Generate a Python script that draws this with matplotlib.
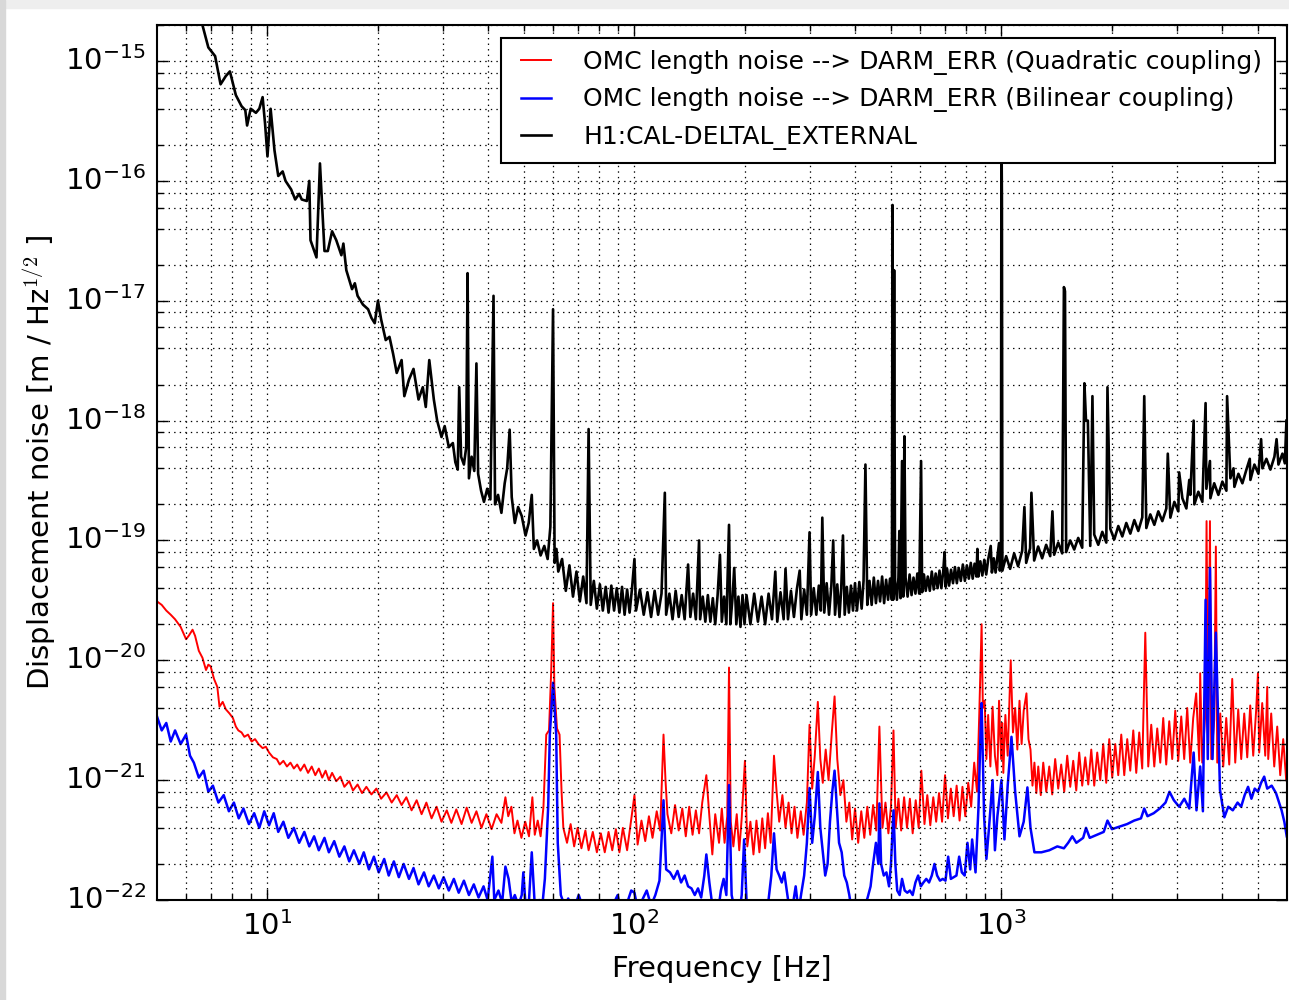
import matplotlib
matplotlib.use('Agg')
import matplotlib.pyplot as plt
from matplotlib.patches import Rectangle
from matplotlib.ticker import FixedLocator, NullFormatter

plt.style.use('classic')
plt.rcParams['axes.unicode_minus'] = False

# values: (frequency Hz, displacement m/rtHz)
black_pts = [
    (5.0, 9e-15), (5.5, 6e-15), (6.0, 4e-15), (6.5, 2.6e-15), (6.9, 1.3e-15),
    (7.2, 1.1e-15), (7.45, 6.4e-16), (7.7, 7.5e-16), (7.9, 8.2e-16), (8.2, 5.2e-16),
    (8.5, 4.2e-16), (8.7, 3.9e-16), (8.8, 2.9e-16), (9.0, 4.0e-16), (9.3, 3.7e-16),
    (9.5, 4.0e-16), (9.7, 5.0e-16), (9.85, 3.0e-16), (10.0, 1.6e-16), (10.2, 4.0e-16),
    (10.45, 1.8e-16), (10.7, 1.1e-16), (11.0, 1.2e-16), (11.2, 1.0e-16), (11.6, 8.5e-17),
    (11.9, 7.0e-17), (12.2, 7.8e-17), (12.4, 7.0e-17), (12.8, 6.8e-17), (13.0, 1.0e-16),
    (13.1, 3.2e-17), (13.6, 2.3e-17), (13.9, 1.4e-16), (14.3, 2.6e-17), (14.6, 2.6e-17),
    (15.0, 3.8e-17), (15.4, 3.2e-17), (15.9, 2.4e-17), (16.1, 3.0e-17), (16.4, 1.8e-17),
    (17.0, 1.25e-17), (17.3, 1.4e-17), (17.6, 1.1e-17), (18.2, 9.3e-18), (18.8, 8.5e-18),
    (19.2, 7.2e-18), (19.6, 6.5e-18), (20.0, 1.0e-17), (20.4, 7.0e-18), (21.0, 4.7e-18),
    (21.5, 5.0e-18), (22.0, 3.6e-18), (22.5, 2.5e-18), (23.2, 3.2e-18), (23.6, 1.6e-18),
    (24.3, 2.2e-18), (25.0, 2.7e-18), (25.8, 1.5e-18), (26.5, 1.9e-18), (27.0, 1.3e-18),
    (27.6, 3.2e-18), (28.4, 1.5e-18), (29.0, 1.0e-18), (29.8, 7.3e-19), (30.4, 9.0e-19),
    (31.2, 6.0e-19), (32.0, 6.5e-19), (32.5, 4.5e-19), (33.0, 3.9e-19), (33.3, 1.9e-18),
    (33.7, 5.0e-19), (34.3, 4.3e-19), (34.8, 6.0e-19), (35.1, 1.7e-17), (35.4, 3.3e-19),
    (36.0, 5.0e-19), (36.6, 3.8e-19), (37.1, 3.0e-18), (37.5, 3.6e-19), (38.2, 2.6e-19),
    (38.9, 2.1e-19), (39.7, 2.7e-19), (40.5, 2.2e-19), (41.3, 1.1e-17), (41.7, 2.0e-19),
    (42.5, 2.4e-19), (43.4, 1.7e-19), (44.3, 3.0e-19), (45.0, 4.0e-19), (45.7, 8.4e-19),
    (46.3, 2.3e-19), (47.2, 1.4e-19), (48.2, 1.9e-19), (49.3, 1.6e-19), (50.5, 1.1e-19),
    (51.5, 1.4e-19), (52.5, 2.4e-19), (53.2, 8.5e-20), (54.3, 1.0e-19), (55.5, 7.5e-20),
    (56.8, 9.0e-20), (58.0, 7.0e-20), (59.0, 1.3e-19), (60.0, 8.5e-18), (60.6, 6.5e-20),
    (61.3, 8.5e-20), (62.0, 5.5e-20), (63.5, 7.0e-20), (65.0, 3.8e-20), (66.5, 6.2e-20),
    (68.0, 3.4e-20), (69.5, 5.5e-20), (71.0, 3.1e-20), (72.5, 5.0e-20), (74.0, 3.0e-20),
    (75.0, 8.5e-19), (76.0, 2.9e-20), (77.5, 4.6e-20), (79.0, 2.7e-20), (80.5, 4.3e-20),
    (82.0, 2.6e-20), (83.5, 4.1e-20), (85.0, 2.5e-20), (86.5, 4.2e-20), (88.0, 2.6e-20),
    (89.5, 4.0e-20), (91.0, 2.5e-20), (92.5, 4.1e-20), (94.0, 2.4e-20), (95.5, 3.9e-20),
    (97.0, 2.5e-20), (98.5, 4.0e-20), (100, 7e-20), (101, 2.6e-20), (103.5, 3.9e-20),
    (106, 2.4e-20), (108.5, 3.7e-20), (111, 2.3e-20), (113.5, 3.8e-20), (116, 2.4e-20),
    (118.5, 3.6e-20), (121, 2.5e-19), (122, 2.4e-20), (124.5, 3.6e-20), (127, 2.2e-20),
    (129.5, 3.8e-20), (132, 2.3e-20), (134.5, 3.5e-20), (137, 2.2e-20), (140, 6.3e-20),
    (142, 2.3e-20), (144.5, 3.6e-20), (147, 2.2e-20), (150, 1.0e-19), (151, 2.2e-20),
    (153.5, 3.4e-20), (156, 2.1e-20), (158.5, 3.5e-20), (161, 2.1e-20), (163.5, 3.3e-20),
    (166, 2.0e-20), (168.5, 3.5e-20), (171, 7.6e-20), (173, 2.1e-20), (175.5, 3.4e-20),
    (178, 2.0e-20), (181, 1.35e-19), (182.5, 2.0e-20), (185, 3.3e-20), (187, 5.9e-20),
    (189.5, 2.0e-20), (192, 3.4e-20), (194.5, 1.9e-20), (197, 3.5e-20), (199.5, 2.0e-20),
    (202, 3.5e-20), (207, 2.0e-20), (212, 3.6e-20), (217, 2.1e-20), (222, 3.4e-20),
    (227, 2.0e-20), (232, 3.6e-20), (237, 2.2e-20), (242, 5.5e-20), (245, 2.1e-20),
    (250, 3.7e-20), (255, 2.2e-20), (258, 5.8e-20), (262, 2.2e-20), (267, 3.8e-20),
    (272, 2.3e-20), (277, 3.9e-20), (282, 5.6e-20), (285, 2.2e-20), (290, 3.9e-20),
    (295, 2.4e-20), (300, 1.17e-19), (303, 2.4e-20), (308, 4.0e-20), (313, 2.4e-20),
    (318, 4.2e-20), (322, 2.6e-20), (325, 1.55e-19), (329, 2.5e-20), (334, 4.4e-20),
    (339, 2.4e-20), (344, 4.2e-20), (348, 1.0e-19), (352, 2.4e-20), (357, 4.3e-20),
    (362, 2.3e-20), (366, 4.0e-20), (370, 1.1e-19), (374, 2.4e-20), (379, 4.1e-20),
    (384, 2.5e-20), (389, 4.2e-20), (394, 2.6e-20), (399, 4.4e-20), (404, 2.6e-20),
    (410, 4.5e-20), (416, 2.7e-20), (421, 4.6e-20), (426, 4.3e-19), (431, 2.9e-20),
    (437, 4.6e-20), (443, 2.9e-20), (449, 4.9e-20), (455, 3.0e-20), (461, 4.6e-20),
    (467, 3.1e-20), (473, 5.0e-20), (479, 3.0e-20), (485, 4.7e-20), (491, 3.2e-20),
    (497, 4.8e-20), (503, 3.2e-20), (505, 6.3e-17), (507, 3.2e-20), (510, 1.8e-17),
    (513, 4.6e-20), (519, 3.2e-20), (524, 4.9e-20), (527, 1.2e-19), (531, 3.3e-20),
    (536, 4.6e-19), (540, 3.4e-20), (544, 7.4e-19), (548, 4.9e-20), (555, 3.4e-20),
    (562, 5.2e-20), (569, 3.5e-20), (576, 4.9e-20), (583, 3.6e-20), (590, 5.3e-20),
    (597, 3.6e-20), (604, 4.6e-19), (608, 3.7e-20), (615, 5.2e-20), (622, 3.8e-20),
    (630, 5.0e-20), (638, 3.8e-20), (646, 5.5e-20), (654, 3.9e-20), (662, 5.3e-20),
    (670, 4.0e-20), (678, 5.6e-20), (686, 4.0e-20), (694, 5.5e-20), (700, 8.0e-20),
    (705, 4.1e-20), (711, 5.8e-20), (720, 4.2e-20), (729, 5.7e-20), (738, 4.4e-20),
    (747, 6.0e-20), (756, 4.4e-20), (765, 5.9e-20), (775, 4.6e-20), (785, 6.3e-20),
    (795, 4.6e-20), (805, 6.2e-20), (815, 4.8e-20), (825, 6.5e-20), (835, 4.8e-20),
    (845, 6.4e-20), (855, 5.0e-20), (860, 8.5e-20), (865, 5.0e-20), (876, 6.7e-20),
    (887, 5.1e-20), (898, 6.9e-20), (909, 5.2e-20), (920, 6.9e-20), (935, 9.0e-20),
    (942, 5.4e-20), (953, 7.1e-20), (964, 5.4e-20), (975, 7.3e-20), (985, 9.5e-20),
    (990, 5.6e-20), (997, 7.3e-20), (1000, 3e-16), (1003, 7e-17), (1006, 5.6e-20),
    (1030, 7.4e-20), (1056, 5.8e-20), (1083, 7.8e-20), (1110, 6.1e-20), (1139, 8.2e-20),
    (1155, 1.9e-19), (1168, 6.5e-20), (1197, 8.6e-20), (1207, 2.5e-19), (1228, 6.8e-20),
    (1259, 8.9e-20), (1291, 7.1e-20), (1324, 9.2e-20), (1358, 7.4e-20), (1377, 1.75e-19),
    (1392, 7.6e-20), (1428, 9.6e-20), (1464, 7.8e-20), (1480, 1.3e-17), (1490, 1.2e-17),
    (1501, 8.0e-20), (1540, 1.0e-19), (1579, 8.4e-20), (1619, 1.05e-19), (1660, 8.7e-20),
    (1683, 2.05e-18), (1700, 1.0e-18), (1720, 1.0e-18), (1746, 9.0e-20), (1770, 1.6e-18),
    (1790, 1.12e-19), (1836, 9.2e-20), (1883, 1.18e-19), (1931, 9.6e-20), (1945, 1.9e-18),
    (1960, 6e-19), (1980, 1.25e-19), (2030, 1.02e-19), (2082, 1.32e-19), (2135, 1.08e-19),
    (2189, 1.40e-19), (2245, 1.14e-19), (2302, 1.48e-19), (2360, 1.2e-19), (2420, 1.56e-19),
    (2450, 1.6e-18), (2482, 1.27e-19), (2545, 1.65e-19), (2610, 1.35e-19), (2676, 1.75e-19),
    (2744, 1.45e-19), (2814, 1.85e-19), (2840, 5.3e-19), (2886, 1.55e-19), (2959, 2.1e-19),
    (3034, 1.75e-19), (3050, 3.7e-19), (3112, 2.25e-19), (3191, 1.85e-19), (3250, 3.2e-19),
    (3272, 2.4e-19), (3340, 1.0e-18), (3355, 2.0e-19), (3440, 2.55e-19), (3528, 2.1e-19),
    (3600, 1.4e-18), (3618, 2.7e-19), (3700, 4.6e-19), (3710, 2.25e-19), (3800, 3.0e-19),
    (3901, 2.4e-19), (4000, 3.1e-19), (4102, 2.6e-19), (4120, 1.6e-18), (4206, 3.3e-19),
    (4290, 4.0e-19), (4313, 2.8e-19), (4423, 3.6e-19), (4535, 3.0e-19), (4651, 3.9e-19),
    (4750, 4.8e-19), (4769, 3.2e-19), (4890, 4.3e-19), (5015, 3.6e-19), (5100, 7.0e-19),
    (5142, 4.0e-19), (5273, 4.8e-19), (5407, 3.9e-19), (5545, 5.0e-19), (5620, 7.0e-19),
    (5686, 4.3e-19), (5830, 5.3e-19), (5920, 4.4e-19), (5979, 1.0e-18),
]

red_pts = [
    (5.0, 3.1e-20), (5.15, 2.9e-20), (5.3, 2.6e-20), (5.45, 2.4e-20), (5.6, 2.2e-20),
    (5.8, 1.9e-20), (6.0, 1.5e-20), (6.1, 1.6e-20), (6.25, 1.8e-20), (6.35, 1.6e-20),
    (6.5, 1.2e-20), (6.65, 1.05e-20), (6.8, 8.3e-21), (6.9, 9.2e-21), (7.0, 8.9e-21),
    (7.15, 7.0e-21), (7.3, 6.0e-21), (7.4, 4.1e-21), (7.55, 4.5e-21), (7.7, 3.9e-21),
    (7.88, 3.6e-21), (8.05, 3.3e-21), (8.2, 2.8e-21), (8.33, 2.6e-21), (8.5, 2.5e-21),
    (8.65, 2.3e-21), (8.85, 2.4e-21), (9.05, 2.1e-21), (9.25, 2.2e-21), (9.45, 2.0e-21),
    (9.7, 1.85e-21), (9.9, 1.9e-21), (10.1, 1.7e-21), (10.35, 1.55e-21), (10.6, 1.5e-21),
    (10.8, 1.35e-21), (11.05, 1.45e-21), (11.3, 1.3e-21), (11.55, 1.4e-21), (11.8, 1.25e-21),
    (12.05, 1.35e-21), (12.3, 1.2e-21), (12.6, 1.35e-21), (12.9, 1.15e-21), (13.2, 1.3e-21),
    (13.5, 1.1e-21), (13.8, 1.25e-21), (14.1, 1.05e-21), (14.4, 1.2e-21), (14.7, 1.0e-21),
    (15.0, 1.15e-21), (15.4, 9.8e-22), (15.8, 1.07e-21), (16.2, 8.8e-22), (16.7, 9.8e-22),
    (17.1, 8.2e-22), (17.6, 9.2e-22), (18.1, 7.8e-22), (18.6, 8.8e-22), (19.2, 7.6e-22),
    (19.8, 8.5e-22), (20.4, 7.0e-22), (21.1, 7.9e-22), (21.8, 6.5e-22), (22.5, 7.5e-22),
    (23.2, 6.2e-22), (23.9, 7.2e-22), (24.7, 5.6e-22), (25.5, 6.8e-22), (26.3, 5.2e-22),
    (27.1, 6.5e-22), (28.0, 4.8e-22), (28.9, 6.0e-22), (29.8, 4.5e-22), (30.8, 5.6e-22),
    (31.7, 4.4e-22), (32.7, 5.7e-22), (33.8, 4.3e-22), (34.9, 5.9e-22), (36.0, 4.4e-22),
    (37.1, 5.5e-22), (38.3, 4.0e-22), (39.5, 5.2e-22), (40.8, 3.9e-22), (42.1, 5.2e-22),
    (43.4, 4.4e-22), (44.5, 7.2e-22), (45.3, 5.0e-22), (46.2, 6.0e-22), (47.1, 3.6e-22),
    (48.0, 4.6e-22), (49.2, 3.3e-22), (50.4, 4.5e-22), (51.6, 3.4e-22), (52.7, 7.2e-22),
    (53.5, 3.5e-22), (54.5, 4.6e-22), (55.5, 3.4e-22), (56.5, 6e-22), (57.5, 2.4e-21),
    (58.5, 2.6e-21), (59.3, 8e-21), (60.0, 3.0e-20), (60.5, 6e-21), (61.5, 2.7e-21),
    (62.5, 2.4e-21), (63.3, 8e-22), (64.0, 4.0e-22), (65.5, 3.0e-22), (67.0, 4.3e-22),
    (68.5, 2.8e-22), (70.0, 4.0e-22), (71.7, 2.7e-22), (73.5, 3.8e-22), (75.0, 2.6e-22),
    (77.0, 3.7e-22), (79.0, 2.5e-22), (81.0, 3.6e-22), (83.0, 2.5e-22), (85.0, 3.7e-22),
    (87.0, 2.6e-22), (89.0, 3.9e-22), (91.0, 2.5e-22), (93.0, 4.0e-22), (95.5, 2.6e-22),
    (97.5, 4.2e-22), (100, 7.5e-22), (102, 2.9e-22), (104.5, 4.6e-22), (107, 3.1e-22),
    (109.5, 5.0e-22), (112, 3.3e-22), (115, 5.5e-22), (117.5, 3.8e-22), (120, 2.4e-21),
    (121.5, 1.0e-21), (123, 5.2e-22), (126, 3.6e-22), (129, 6.2e-22), (132, 3.8e-22),
    (135, 5.8e-22), (138, 3.4e-22), (141, 6.0e-22), (144, 3.5e-22), (147, 5.6e-22),
    (150, 3.6e-22), (153, 6.5e-22), (157, 1.1e-21), (160, 5.0e-22), (163, 2.4e-22),
    (166, 5.2e-22), (170, 3.0e-22), (173, 5.8e-22), (176, 3.0e-22), (179, 5.0e-22),
    (181, 8.7e-21), (183, 4.5e-22), (186, 2.8e-22), (190, 5.2e-22), (193, 2.6e-22),
    (196, 4.8e-22), (200, 1.45e-21), (203, 2.8e-22), (207, 4.5e-22), (211, 2.4e-22),
    (215, 4.6e-22), (219, 2.5e-22), (223, 4.8e-22), (227, 2.7e-22), (231, 5.3e-22),
    (235, 3.0e-22), (240, 1.6e-21), (244, 8.0e-22), (248, 4.5e-22), (253, 7.5e-22),
    (258, 4.0e-22), (263, 6.5e-22), (268, 3.6e-22), (273, 6.0e-22), (278, 3.3e-22),
    (284, 5.5e-22), (289, 3.5e-22), (295, 6.5e-22), (300, 2.9e-21), (305, 8.5e-22),
    (310, 1.6e-21), (316, 4.5e-21), (321, 1.5e-21), (326, 9.5e-22), (332, 1.8e-21),
    (338, 1.0e-21), (345, 2.5e-21), (351, 5.0e-21), (357, 1.5e-21), (364, 7.5e-22),
    (371, 1.0e-21), (378, 4.5e-22), (385, 6.5e-22), (392, 3.2e-22), (399, 5.8e-22),
    (407, 3.0e-22), (415, 5.5e-22), (423, 3.3e-22), (431, 6.0e-22), (439, 3.5e-22),
    (447, 6.2e-22), (456, 3.8e-22), (465, 2.8e-21), (474, 4.0e-22), (483, 6.5e-22),
    (492, 3.6e-22), (500, 6.0e-22), (508, 2.6e-21), (515, 4.0e-22), (524, 7.0e-22),
    (533, 3.8e-22), (543, 7.2e-22), (553, 4.0e-22), (563, 7.0e-22), (573, 3.6e-22),
    (584, 6.8e-22), (595, 4.0e-22), (605, 1.2e-21), (617, 4.3e-22), (628, 7.5e-22),
    (640, 4.2e-22), (652, 7.2e-22), (664, 4.5e-22), (676, 7.8e-22), (689, 4.5e-22),
    (702, 1.1e-21), (715, 4.8e-22), (728, 8.5e-22), (741, 5.0e-22), (755, 9.0e-22),
    (769, 4.6e-22), (783, 8.8e-22), (797, 5.0e-22), (812, 9.5e-22), (827, 6.0e-22),
    (843, 1.4e-21), (858, 8.0e-22), (870, 3.5e-21), (883, 2.0e-20), (890, 4.0e-21),
    (900, 4.6e-21), (910, 1.5e-21), (920, 3.5e-21), (933, 1.3e-21), (946, 4.1e-21),
    (960, 1.6e-21), (975, 1.1e-21), (985, 4.6e-21), (998, 1.5e-21), (1005, 3.0e-21),
    (1012, 1.15e-21), (1025, 3.5e-21), (1040, 1.6e-21), (1060, 1.0e-20), (1075, 2.5e-21),
    (1090, 4.0e-21), (1105, 1.8e-21), (1120, 4.6e-21), (1135, 2.0e-21), (1150, 3.8e-21),
    (1170, 5.3e-21), (1185, 2.2e-21), (1200, 1.8e-21), (1215, 9e-22), (1230, 1.4e-21),
    (1245, 7.8e-22), (1260, 1.3e-21), (1280, 7.5e-22), (1300, 1.4e-21), (1325, 8.0e-22),
    (1350, 1.3e-21), (1375, 7.6e-22), (1401, 1.5e-21), (1428, 8.5e-22), (1455, 1.35e-21),
    (1483, 8.0e-22), (1511, 1.6e-21), (1540, 8.8e-22), (1569, 1.45e-21), (1599, 8.2e-22),
    (1629, 1.7e-21), (1660, 9.0e-22), (1692, 1.55e-21), (1724, 9.2e-22), (1757, 1.8e-21),
    (1790, 9.0e-22), (1824, 1.7e-21), (1859, 1.0e-21), (1894, 2.0e-21), (1930, 9.5e-22),
    (1967, 2.2e-21), (2004, 1.05e-21), (2042, 2.0e-21), (2081, 1.1e-21), (2121, 2.4e-21),
    (2161, 1.1e-21), (2202, 2.2e-21), (2244, 1.2e-21), (2287, 2.6e-21), (2330, 1.15e-21),
    (2374, 2.5e-21), (2419, 1.25e-21), (2466, 1.7e-20), (2512, 1.3e-21), (2560, 2.9e-21),
    (2609, 1.3e-21), (2658, 2.7e-21), (2709, 1.4e-21), (2760, 3.3e-21), (2812, 1.35e-21),
    (2866, 3.1e-21), (2920, 1.5e-21), (2976, 3.8e-21), (3032, 1.45e-21), (3090, 3.4e-21),
    (3148, 1.5e-21), (3208, 4.0e-21), (3269, 1.4e-21), (3331, 3.3e-21), (3394, 5.3e-21),
    (3459, 1.45e-21), (3480, 7.8e-21), (3525, 1.4e-21), (3592, 3.5e-21), (3622, 1.45e-19),
    (3660, 2.0e-21), (3700, 1.45e-19), (3730, 1.5e-21), (3801, 3.2e-21), (3840, 8.9e-20),
    (3873, 1.4e-21), (3947, 3.6e-21), (4022, 1.3e-21), (4098, 3.3e-21), (4176, 1.35e-21),
    (4255, 7.0e-21), (4336, 1.4e-21), (4418, 3.9e-21), (4502, 1.5e-21), (4588, 3.6e-21),
    (4675, 1.55e-21), (4764, 4.2e-21), (4854, 1.6e-21), (4946, 3.9e-21), (5000, 7.8e-21),
    (5040, 1.7e-21), (5136, 4.4e-21), (5234, 1.6e-21), (5300, 6.0e-21), (5333, 1.5e-21),
    (5434, 3.6e-21), (5538, 1.3e-21), (5643, 2.8e-21), (5750, 1.1e-21), (5859, 2.2e-21),
    (5970, 1.0e-21),
]

blue_pts = [
    (5.0, 3.4e-21), (5.15, 2.6e-21), (5.3, 3.0e-21), (5.45, 2.1e-21), (5.6, 2.6e-21),
    (5.8, 2.0e-21), (6.0, 2.4e-21), (6.15, 1.6e-21), (6.3, 1.4e-21), (6.5, 1.05e-21),
    (6.7, 1.2e-21), (6.9, 8.0e-22), (7.1, 9.0e-22), (7.35, 6.5e-22), (7.6, 7.5e-22),
    (7.85, 5.5e-22), (8.1, 6.5e-22), (8.35, 4.8e-22), (8.6, 5.8e-22), (8.9, 4.3e-22),
    (9.2, 5.3e-22), (9.5, 4.0e-22), (9.8, 5.5e-22), (10.1, 4.2e-22), (10.4, 5.3e-22),
    (10.7, 3.7e-22), (11.05, 4.5e-22), (11.4, 3.3e-22), (11.8, 4.0e-22), (12.2, 3.0e-22),
    (12.6, 3.7e-22), (13.0, 2.8e-22), (13.4, 3.4e-22), (13.8, 2.6e-22), (14.3, 3.3e-22),
    (14.7, 2.5e-22), (15.2, 3.1e-22), (15.7, 2.3e-22), (16.2, 2.8e-22), (16.7, 2.1e-22),
    (17.2, 2.6e-22), (17.8, 2.0e-22), (18.3, 2.5e-22), (18.9, 1.8e-22), (19.5, 2.3e-22),
    (20.1, 1.7e-22), (20.8, 2.2e-22), (21.4, 1.6e-22), (22.1, 2.1e-22), (22.8, 1.55e-22),
    (23.5, 2.0e-22), (24.3, 1.5e-22), (25.0, 1.85e-22), (25.8, 1.35e-22), (26.7, 1.7e-22),
    (27.5, 1.3e-22), (28.4, 1.6e-22), (29.3, 1.25e-22), (30.2, 1.55e-22), (31.2, 1.2e-22),
    (32.2, 1.5e-22), (33.2, 1.15e-22), (34.3, 1.45e-22), (35.4, 1.1e-22), (36.5, 1.35e-22),
    (37.6, 1.05e-22), (38.8, 1.3e-22), (39.8, 1.0e-22), (41.0, 2.3e-22), (41.5, 1.0e-22),
    (42.6, 1.2e-22), (43.6, 9.5e-23), (44.5, 1.9e-22), (45.4, 1.5e-22), (46.3, 9.5e-23),
    (47.2, 1.1e-22), (48.3, 9.0e-23), (49.3, 1.1e-22), (49.8, 1.7e-22), (50.5, 9.0e-23),
    (51.5, 9e-23), (52.5, 2.5e-22), (53.5, 9e-23), (55.0, 1.0e-22), (56.0, 8.5e-23),
    (57.0, 1.5e-22), (58.2, 6e-22), (58.8, 2.4e-21), (60.0, 6.5e-21), (61.2, 2.4e-21),
    (61.8, 3e-22), (63, 1.1e-22), (64.5, 9e-23), (66, 1.03e-22), (68, 8e-23),
    (70.5, 1.1e-22), (73, 8e-23), (76, 9e-23), (80, 7e-23), (85, 8e-23),
    (88, 9.5e-23), (90, 1.1e-22), (92, 8e-23), (95, 9e-23), (98, 1.2e-22),
    (100, 1.15e-22), (102, 8.5e-23), (105, 1.0e-22), (108, 1.2e-22), (111, 9e-23),
    (114, 1.1e-22), (117, 1.45e-22), (120, 6.8e-22), (122, 1.8e-22), (125, 1.7e-22),
    (128, 1.5e-22), (131, 1.75e-22), (134, 1.4e-22), (137, 1.6e-22), (140, 1.3e-22),
    (143, 1.25e-22), (146, 1.1e-22), (149, 1.25e-22), (152, 1.05e-22), (155, 1.6e-22),
    (157, 2.4e-22), (160, 1.4e-22), (163, 9e-23), (166, 1.0e-22), (169, 8e-23),
    (172, 1.2e-22), (175, 1.5e-22), (178, 1.1e-22), (181, 9.1e-22), (184, 1.1e-22),
    (188, 8e-23), (192, 7e-23), (196, 1.1e-22), (199, 3.2e-22), (202, 1.0e-22),
    (206, 8e-23), (211, 7.5e-23), (216, 8e-23), (221, 7e-23), (226, 8e-23),
    (231, 9e-23), (236, 1.6e-22), (240, 3.6e-22), (244, 1.8e-22), (248, 1.6e-22),
    (252, 1.4e-22), (256, 1.7e-22), (260, 1.2e-22), (265, 8e-23), (270, 9e-23),
    (275, 1.3e-22), (280, 8e-23), (285, 1.15e-22), (290, 1.6e-22), (295, 3.0e-22),
    (300, 8.6e-22), (305, 3.0e-22), (310, 5.0e-22), (316, 1.17e-21), (321, 4.0e-22),
    (326, 2.5e-22), (331, 1.6e-22), (336, 2.0e-22), (341, 4.5e-22), (346, 8.0e-22),
    (351, 1.2e-21), (356, 6.0e-22), (361, 3.0e-22), (367, 2.5e-22), (373, 1.6e-22),
    (379, 1.4e-22), (385, 1.1e-22), (391, 8e-23), (397, 1.0e-22), (404, 8e-23),
    (411, 7e-23), (418, 8e-23), (425, 9e-23), (432, 1.05e-22), (440, 1.3e-22),
    (447, 2.0e-22), (455, 3.0e-22), (462, 2.0e-22), (465, 6.4e-22), (470, 2.0e-22),
    (478, 1.6e-22), (486, 1.7e-22), (494, 1.3e-22), (500, 2.0e-22), (508, 5.6e-22),
    (514, 2.0e-22), (520, 1.2e-22), (528, 1.1e-22), (536, 1.5e-22), (545, 1.2e-22),
    (554, 1.15e-22), (563, 1.2e-22), (573, 1.1e-22), (583, 1.4e-22), (593, 1.6e-22),
    (603, 1.3e-22), (613, 1.4e-22), (624, 1.5e-22), (635, 1.4e-22), (646, 1.6e-22),
    (657, 2.0e-22), (668, 1.6e-22), (680, 1.45e-22), (692, 1.5e-22), (704, 1.45e-22),
    (716, 2.3e-22), (728, 1.5e-22), (741, 1.55e-22), (754, 1.6e-22), (767, 2.3e-22),
    (780, 1.7e-22), (794, 1.6e-22), (808, 3.0e-22), (822, 1.8e-22), (832, 3.2e-22),
    (850, 1.7e-22), (866, 6e-22), (877, 2.5e-21), (883, 4.4e-21), (890, 1.5e-21),
    (897, 5e-22), (910, 2.2e-22), (925, 4e-22), (946, 1.0e-21), (960, 2.6e-22),
    (975, 5e-22), (1000, 1.0e-21), (1019, 3.2e-22), (1040, 9e-22), (1065, 2.3e-21),
    (1090, 8e-22), (1120, 3.4e-22), (1150, 4.5e-22), (1177, 8.7e-22), (1200, 4e-22),
    (1230, 2.5e-22), (1285, 2.5e-22), (1350, 2.6e-22), (1420, 2.8e-22), (1480, 2.7e-22),
    (1520, 3.0e-22), (1560, 3.4e-22), (1600, 3.0e-22), (1670, 3.3e-22), (1700, 4.0e-22),
    (1740, 3.3e-22), (1820, 3.5e-22), (1900, 3.7e-22), (1945, 4.6e-22), (2000, 3.9e-22),
    (2100, 4.1e-22), (2200, 4.3e-22), (2300, 4.6e-22), (2400, 4.8e-22), (2450, 5.8e-22),
    (2500, 5.0e-22), (2600, 5.3e-22), (2700, 5.8e-22), (2800, 6.5e-22), (2870, 8e-22),
    (2950, 6.8e-22), (3050, 6.0e-22), (3150, 7.0e-22), (3250, 5.8e-22), (3340, 1.7e-21),
    (3400, 5.6e-22), (3480, 1.3e-21), (3540, 5.5e-22), (3600, 3.2e-20), (3650, 1.5e-21),
    (3700, 5.9e-20), (3760, 1.5e-21), (3840, 1.7e-20), (3940, 8.3e-22), (4050, 4.9e-22),
    (4150, 6.0e-22), (4270, 5.6e-22), (4400, 6.5e-22), (4500, 6.0e-22), (4600, 7.5e-22),
    (4700, 8.8e-22), (4800, 7.0e-22), (4900, 8.5e-22), (5000, 8.0e-22), (5100, 9.5e-22),
    (5200, 1.07e-21), (5300, 8.5e-22), (5450, 9.0e-22), (5600, 7.8e-22), (5800, 5.6e-22),
    (5900, 4.5e-22), (5990, 3.4e-22),
]

labels = ['OMC length noise --> DARM_ERR (Quadratic coupling)',
          'OMC length noise --> DARM_ERR (Bilinear coupling)',
          'H1:CAL-DELTAL_EXTERNAL']

# tick positions (only the ones inside the view)
x_major = [10, 100, 1000]
x_minor = [6, 7, 8, 9, 20, 30, 40, 50, 60, 70, 80, 90,
           200, 300, 400, 500, 600, 700, 800, 900, 2000, 3000, 4000, 5000]
y_major = [1e-22, 1e-21, 1e-20, 1e-19, 1e-18, 1e-17, 1e-16, 1e-15]
y_minor = [m * 10.0 ** e for e in range(-22, -15) for m in (2, 4, 6, 8)] + [2e-15]

red_f, red_v = zip(*red_pts)
blue_f, blue_v = zip(*blue_pts)
black_f, black_v = zip(*black_pts)

fig = plt.figure(figsize=(12.89, 10), dpi=100, facecolor='white')
# light screenshot border
fig.patches.append(Rectangle((0, 0.992), 1, 0.008, transform=fig.transFigure,
                             color='#eeeeee', zorder=0))
fig.patches.append(Rectangle((0, 0), 0.004, 1, transform=fig.transFigure,
                             color='#d8d8d8', zorder=0))

ax = fig.add_axes([157/1289, 0.1, 1130/1289, 0.875])
ax.loglog(red_f, red_v, color='r', lw=1.4, label=labels[0])
ax.loglog(blue_f, blue_v, color='b', lw=1.8, label=labels[1])
ax.loglog(black_f, black_v, color='k', lw=1.9, label=labels[2])

ax.set_xlim(5, 6000)
ax.set_ylim(1e-22, 2e-15)
ax.xaxis.set_major_locator(FixedLocator(x_major))
ax.xaxis.set_minor_locator(FixedLocator(x_minor))
ax.yaxis.set_major_locator(FixedLocator(y_major))
ax.yaxis.set_minor_locator(FixedLocator(y_minor))
ax.xaxis.set_minor_formatter(NullFormatter())
ax.yaxis.set_minor_formatter(NullFormatter())
ax.grid(True, which='both', color='k', linestyle=':', linewidth=0.9)
ax.tick_params(which='major', length=8, width=1, labelsize=21, pad=8)
ax.tick_params(which='minor', length=4, width=1)
for sp in ax.spines.values():
    sp.set_linewidth(1.5)

ax.set_xlabel('Frequency [Hz]', fontsize=21, labelpad=10)
ax.set_ylabel(r'Displacement noise [m / Hz$^{1/2}$ ]', fontsize=21)

leg = ax.legend(loc='upper right', fontsize=18, borderaxespad=0.5, borderpad=0.5,
                labelspacing=0.5, handlelength=1.8, handletextpad=1.0)
leg.get_frame().set_linewidth(1.5)

fig.savefig('out.png', dpi=100, facecolor='white')
